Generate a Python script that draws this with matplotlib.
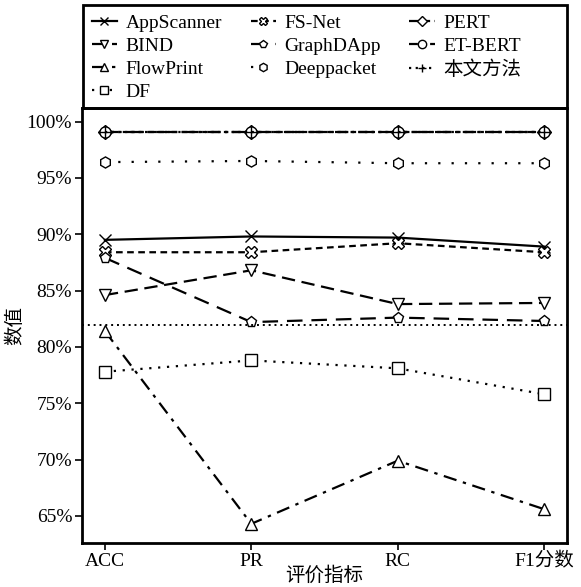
import matplotlib
matplotlib.use("Agg")
import matplotlib.pyplot as plt
from matplotlib.patches import Rectangle
import numpy as np

plt.rcParams['font.family'] = ['Liberation Serif', 'Noto Sans CJK SC']
plt.rcParams['axes.unicode_minus'] = False

metrics = ["ACC", "PR", "RC", "F1分数"]

appscanner = [89.5, 89.8, 89.7, 88.9]
bind = [84.6, 86.8, 83.8, 83.9]
flowprint = [81.4, 64.3, 69.9, 65.6]
df = [77.8, 78.8, 78.1, 75.8]
fsnet = [88.4, 88.4, 89.2, 88.4]
graphdapp = [87.9, 82.2, 82.6, 82.3]
deeppacket = [96.4, 96.5, 96.3, 96.3]
pert = [99.1, 99.1, 99.1, 99.1]
etbert = [99.1, 99.1, 99.1, 99.1]
ours = [99.1, 99.1, 99.1, 99.1]
ref_line = 81.9

# 名称, 数据, 线型, 标记
series = [
    ("AppScanner", appscanner, "-", "x"),
    ("BIND", bind, (0, (6, 3)), "v"),
    ("FlowPrint", flowprint, (0, (6, 3, 1.5, 3)), "^"),
    ("DF", df, (0, (1, 3)), "s"),
    ("FS-Net", fsnet, (0, (3, 2)), "X"),
    ("GraphDApp", graphdapp, (0, (7, 4)), "p"),
    ("Deeppacket", deeppacket, (0, (1, 5)), "h"),
    ("PERT", pert, (0, (6, 2, 1.5, 2)), "D"),
    ("ET-BERT", etbert, (0, (4, 2, 1.5, 2)), "o"),
    ("本文方法", ours, (0, (1, 2)), "+"),
]

fig = plt.figure(figsize=(5.81, 5.87), dpi=100)
ax = fig.add_axes([0.141, 0.075, 0.835, 0.741])

x = np.arange(len(metrics))
for name, vals, ls, mk in series:
    ms = 7 if mk in ("D",) else 8
    ax.plot(x, vals, linestyle=ls, marker=mk, color="black", lw=1.6,
            markersize=ms, markerfacecolor="white", markeredgecolor="black",
            markeredgewidth=1.0, label=name)

ax.axhline(ref_line, color="black", linestyle=(0, (1, 2)), lw=1.4)

ax.set_xlim(-0.157, 3.157)
ax.set_ylim(62.6, 101.2)
ax.set_xticks(x)
ax.set_xticklabels(metrics, fontsize=14)
yt = np.arange(65, 101, 5)
ax.set_yticks(yt)
ax.set_yticklabels(["%d%%" % v for v in yt], fontsize=14)
ax.tick_params(direction="out", length=5, width=1.2, colors="black", pad=2)
for s in ax.spines.values():
    s.set_linewidth(2)
ax.set_xlabel("评价指标", fontsize=14, labelpad=-3)
ax.set_ylabel("数值", fontsize=14, labelpad=2)

# 图例外框
fig.add_artist(Rectangle((0.143, 0.816), 0.833, 0.176, transform=fig.transFigure,
                         fill=False, edgecolor="black", lw=2, zorder=5))
fig.legend(loc="upper left", bbox_to_anchor=(0.148, 0.986), ncol=3,
           fontsize=14, frameon=False, handlelength=1.3, handletextpad=0.45,
           borderaxespad=0, labelspacing=0.28, columnspacing=1.45,
           borderpad=0.3, markerscale=0.75)

fig.savefig("out.png", dpi=100)
